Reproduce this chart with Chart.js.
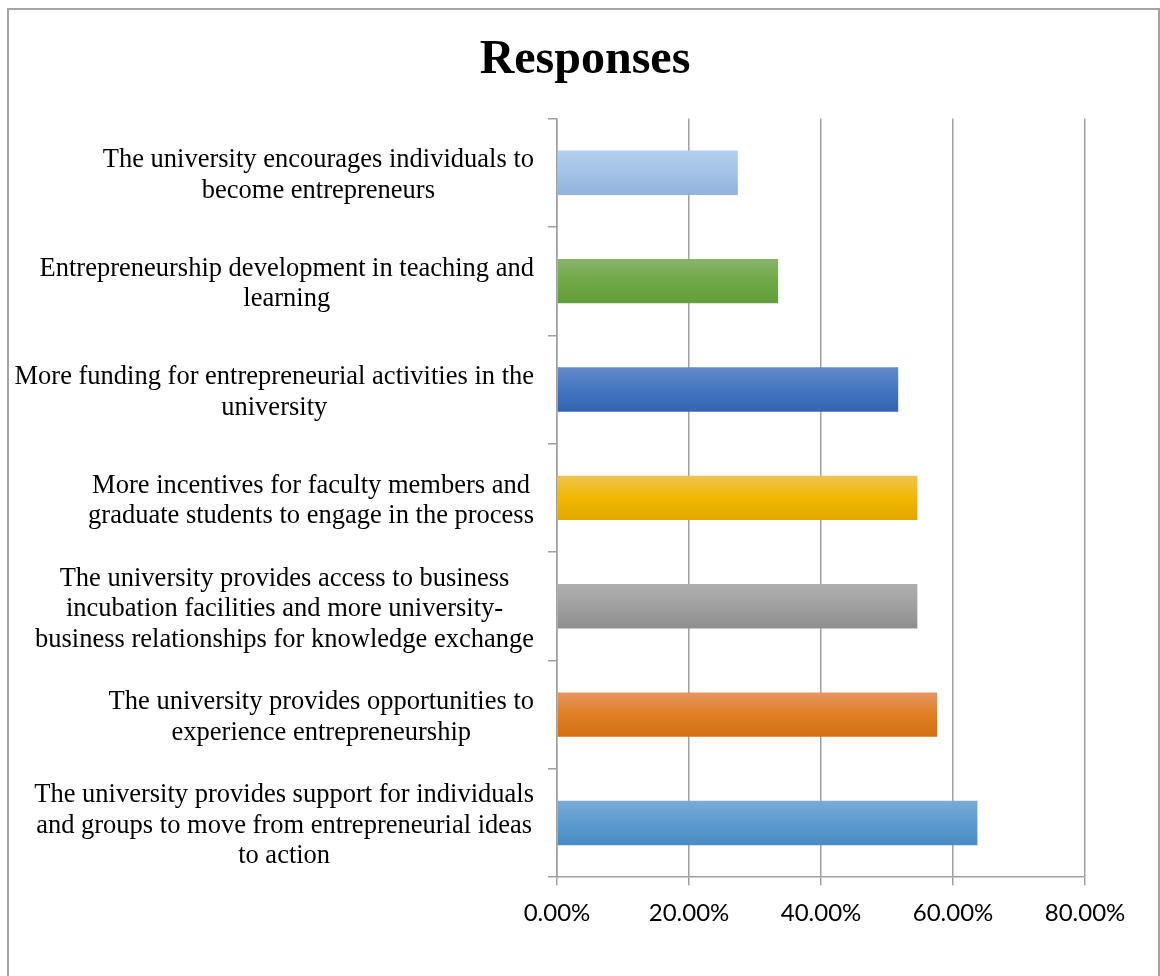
<!DOCTYPE html>
<html>
<head>
<meta charset="utf-8">
<script src="https://cdn.jsdelivr.net/npm/chart.js@4"></script>
<style>
  html, body { margin: 0; padding: 0; background: #fff; overflow: hidden; }
  #wrap { position: relative; width: 1160px; height: 976px; }
  #frame {
    position: absolute; left: 7px; top: 8px; width: 1149px; height: 1000px;
    border: 2px solid #a4a4a4; border-bottom: none;
  }
  #chart { position: absolute; left: 0; top: 0; }
</style>
</head>
<body>
<div id="wrap">
  <div id="frame"></div>
  <canvas id="chart" width="1160" height="976"></canvas>
</div>
<script>
// categories, top to bottom (each one split in lines like the original)
const categories = [
  ['The university encourages individuals to', 'become entrepreneurs'],
  ['Entrepreneurship development in teaching and', 'learning'],
  ['More funding for entrepreneurial activities in the', 'university'],
  ['More incentives for faculty members and', 'graduate students to engage in the process'],
  ['The university provides access to business', 'incubation facilities and more university-', 'business relationships for knowledge exchange'],
  ['The university provides opportunities to', 'experience entrepreneurship'],
  ['The university provides support for individuals', 'and groups to move from entrepreneurial ideas', 'to action']
];
// percent of responses
const responses = [27.4, 33.5, 51.7, 54.6, 54.6, 57.6, 63.7];
const xTicks = [0, 20, 40, 60, 80];

// gradient stops per bar (top -> bottom)
const barColors = [
  ['#b2cfef', '#a3c2e6', '#92b2d9'],
  ['#88b36d', '#70a845', '#629e39'],
  ['#6389cb', '#4376c1', '#3365af'],
  ['#f0c24e', '#f2b800', '#e1a700'],
  ['#aeaeae', '#a0a0a0', '#8e8e8e'],
  ['#e6955f', '#e07f24', '#d46f15'],
  ['#79aad6', '#5c9bd0', '#498cc2']
];

function barFill(ctx) {
  const chart = ctx.chart;
  const stops = barColors[ctx.dataIndex] || barColors[0];
  const y = chart.scales.y;
  if (!y || !chart.chartArea) return stops[1];
  const c = y.getPixelForValue(ctx.dataIndex);
  const band = Math.abs(y.getPixelForValue(1) - y.getPixelForValue(0));
  const half = band * 0.2;
  const g = chart.ctx.createLinearGradient(0, c - half, 0, c + half);
  g.addColorStop(0, stops[0]);
  g.addColorStop(0.5, stops[1]);
  g.addColorStop(1, stops[2]);
  return g;
}

// category labels: each block centred on itself, right edge near the axis
const labelPlugin = {
  id: 'blockLabels',
  afterDraw(chart) {
    const y = chart.scales.y;
    const ctx = chart.ctx;
    ctx.save();
    ctx.font = '26.5px "Liberation Serif", "Times New Roman", serif';
    ctx.fillStyle = '#000';
    ctx.textAlign = 'center';
    ctx.textBaseline = 'middle';
    const lh = 30.5;
    categories.forEach((lines, i) => {
      const cy = y.getPixelForValue(i) + 3;
      const w = Math.max(...lines.map(l => ctx.measureText(l).width));
      const cx = 534 - w / 2;
      const top = cy - (lines.length - 1) * lh / 2;
      lines.forEach((l, k) => ctx.fillText(l, cx, top + k * lh));
    });
    ctx.restore();
  }
};

new Chart(document.getElementById('chart'), {
  type: 'bar',
  data: {
    labels: categories,
    datasets: [{
      label: 'Responses',
      data: responses,
      backgroundColor: barFill,
      borderWidth: 0,
      categoryPercentage: 1,
      barPercentage: 0.41
    }]
  },
  options: {
    indexAxis: 'y',
    responsive: false,
    animation: false,
    layout: { padding: { left: 85, right: 75, top: 0, bottom: 34 } },
    plugins: {
      legend: { display: false },
      tooltip: { enabled: false },
      title: {
        display: true,
        text: 'Responses',
        color: '#000',
        font: { family: '"Liberation Serif", "Times New Roman", serif', size: 48, weight: 'bold' },
        padding: { top: 32, bottom: 29 }
      }
    },
    scales: {
      x: {
        min: 0, max: 80,
        afterBuildTicks: s => { s.ticks = xTicks.map(v => ({ value: v })); },
        grid: { color: '#a0a0a0', lineWidth: 1.5, tickLength: 8 },
        border: { color: '#a0a0a0', width: 1.5 },
        ticks: {
          color: '#000',
          padding: 14,
          font: { family: 'Lato, "Open Sans", sans-serif', size: 24 },
          callback: v => v.toFixed(2) + '%'
        }
      },
      y: {
        afterFit: s => { s.width = 472; },
        grid: { offset: true, drawOnChartArea: false, color: '#a0a0a0', lineWidth: 1.5, tickLength: 9 },
        border: { color: '#a0a0a0', width: 1.5 },
        ticks: { display: false }
      }
    }
  },
  plugins: [labelPlugin]
});
</script>
</body>
</html>
